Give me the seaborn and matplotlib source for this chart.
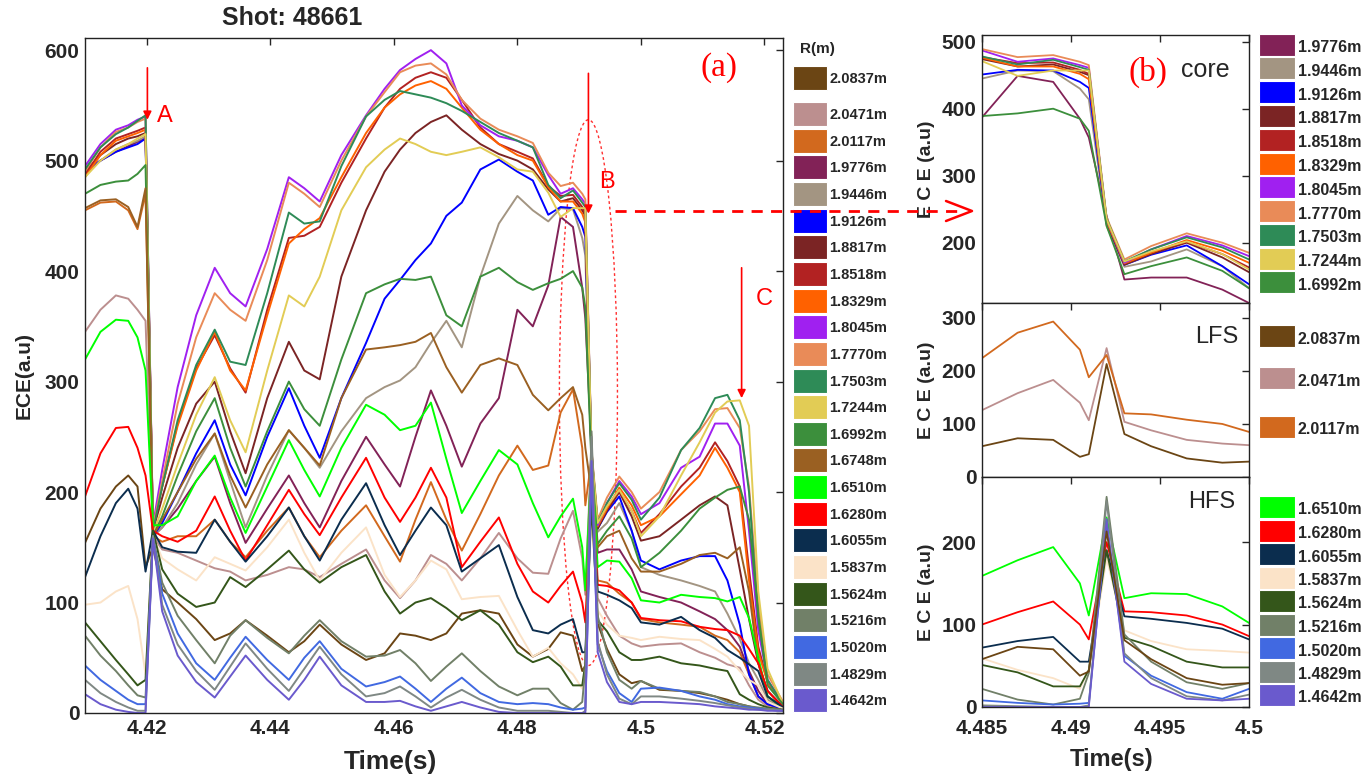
import matplotlib
matplotlib.use("Agg")
import matplotlib.pyplot as plt
import numpy as np
import pandas as pd
import seaborn as sns
from matplotlib.patches import Ellipse, Rectangle
from matplotlib.lines import Line2D

# ---------------------------------------------------------------- data
time_s = [4.4100, 4.4125, 4.4150, 4.4170, 4.4185, 4.4198, 4.4210, 4.4225, 4.4250, 4.4280,
          4.4310, 4.4335, 4.4360, 4.4395, 4.4430, 4.4455, 4.4480, 4.4515, 4.4555, 4.4585,
          4.4610, 4.4635, 4.4660, 4.4685, 4.4710, 4.4740, 4.4770, 4.4800, 4.4825, 4.4850,
          4.4870, 4.4890, 4.4905, 4.4910, 4.4920, 4.4930, 4.4945, 4.4965, 4.4985, 4.5000,
          4.5030, 4.5065, 4.5095, 4.5120, 4.5140, 4.5160, 4.5175, 4.5190, 4.5205, 4.5230]

radius_labels = ["2.0837m", "2.0471m", "2.0117m", "1.9776m", "1.9446m", "1.9126m",
                 "1.8817m", "1.8518m", "1.8329m", "1.8045m", "1.7770m", "1.7503m",
                 "1.7244m", "1.6992m", "1.6748m", "1.6510m", "1.6280m", "1.6055m",
                 "1.5837m", "1.5624m", "1.5216m", "1.5020m", "1.4829m", "1.4642m"]

line_colors = ["#6B4514", "#BC8F8F", "#D2691E", "#822257", "#A39582", "#0000FF",
               "#7B2424", "#B22222", "#FF6100", "#A020F0", "#E98B58", "#2E8B57",
               "#E2CC55", "#3C8F3C", "#9A6022", "#00FF00", "#FF0000", "#0B2D4E",
               "#FBE3C8", "#34561A", "#718068", "#4169E1", "#7F8884", "#6A5ACD"]

ece_2_0837 = [154, 185, 205, 215, 205, 132, 150, 112, 100, 85, 66, 72, 84, 70, 55, 65, 80, 62, 48, 54,
              72, 70, 66, 72, 90, 93, 90, 62, 51, 58, 73, 70, 38, 43, 213, 81, 58, 35, 27, 29,
              21, 20, 18, 15, 12, 8, 6, 4, 3, 2]
ece_2_0471 = [345, 365, 378, 375, 365, 355, 160, 148, 145, 138, 131, 128, 120, 125, 132, 130, 123, 135, 148, 120,
              104, 120, 143, 135, 120, 140, 163, 140, 127, 126, 158, 183, 140, 107, 243, 104, 88, 70, 63, 60,
              62, 63, 55, 50, 44, 41, 25, 12, 6, 3]
ece_2_0117 = [455, 462, 463, 455, 438, 470, 160, 155, 160, 160, 175, 155, 141, 165, 186, 160, 141, 165, 188, 160,
              137, 175, 209, 175, 147, 180, 215, 242, 220, 224, 272, 293, 240, 188, 230, 120, 118, 108, 100, 85,
              82, 80, 78, 70, 66, 55, 35, 15, 8, 4]
ece_1_9776 = [490, 500, 508, 513, 517, 520, 160, 168, 185, 210, 232, 190, 154, 185, 215, 190, 168, 210, 250, 225,
              205, 250, 292, 260, 223, 262, 285, 365, 350, 387, 449, 440, 385, 357, 240, 145, 148, 148, 130, 110,
              105, 100, 92, 85, 75, 60, 38, 20, 8, 4]
ece_1_9446 = [488, 500, 510, 515, 518, 522, 160, 168, 190, 225, 253, 210, 168, 215, 256, 240, 222, 255, 285, 295,
              301, 313, 335, 355, 331, 395, 443, 468, 455, 445, 457, 456, 430, 414, 225, 164, 172, 190, 165, 132,
              125, 120, 115, 110, 90, 67, 45, 30, 12, 5]
ece_1_9126 = [490, 500, 508, 512, 515, 520, 160, 172, 200, 235, 265, 225, 197, 250, 294, 260, 231, 285, 335, 375,
              392, 410, 425, 450, 462, 492, 501, 490, 482, 451, 458, 457, 440, 431, 228, 167, 182, 196, 165, 138,
              130, 138, 142, 142, 120, 80, 35, 15, 8, 4]
ece_1_8817 = [490, 505, 515, 520, 522, 525, 165, 195, 240, 280, 300, 255, 217, 285, 336, 310, 302, 395, 455, 490,
              510, 525, 535, 541, 528, 515, 506, 500, 492, 474, 463, 466, 455, 450, 230, 167, 183, 200, 178, 156,
              160, 175, 188, 196, 188, 130, 85, 45, 20, 6]
ece_1_8518 = [487, 508, 520, 524, 527, 530, 168, 205, 262, 312, 342, 312, 290, 365, 430, 432, 440, 480, 520, 548,
              565, 575, 580, 575, 555, 530, 515, 508, 502, 477, 468, 469, 458, 452, 234, 170, 186, 201, 183, 163,
              180, 205, 222, 245, 228, 205, 130, 60, 28, 8]
ece_1_8329 = [485, 505, 518, 522, 525, 528, 168, 205, 260, 310, 345, 310, 292, 360, 425, 438, 448, 485, 525, 548,
              560, 568, 572, 565, 548, 528, 515, 505, 500, 476, 463, 463, 452, 444, 232, 169, 185, 204, 188, 170,
              178, 198, 215, 240, 222, 200, 120, 55, 28, 8]
ece_1_8045 = [495, 515, 528, 532, 537, 540, 170, 220, 295, 360, 403, 380, 368, 420, 485, 475, 463, 505, 541, 565,
              582, 592, 600, 588, 550, 532, 522, 518, 512, 487, 470, 475, 465, 461, 235, 170, 190, 210, 196, 180,
              190, 222, 232, 262, 262, 242, 165, 75, 30, 8]
ece_1_7770 = [490, 512, 526, 530, 535, 538, 168, 210, 280, 340, 380, 365, 355, 410, 480, 470, 458, 500, 540, 562,
              580, 586, 588, 578, 555, 538, 528, 522, 516, 489, 477, 480, 470, 465, 238, 175, 195, 214, 200, 185,
              200, 238, 255, 275, 276, 258, 205, 100, 35, 10]
ece_1_7503 = [492, 512, 524, 530, 536, 541, 165, 205, 265, 315, 347, 318, 315, 380, 453, 443, 445, 495, 540, 555,
              563, 560, 557, 552, 545, 535, 525, 518, 512, 478, 466, 473, 462, 458, 236, 172, 190, 208, 193, 175,
              195, 238, 258, 285, 288, 265, 200, 85, 30, 8]
ece_1_7244 = [485, 500, 510, 515, 520, 524, 162, 185, 225, 270, 304, 265, 236, 310, 378, 368, 395, 455, 494, 510,
              520, 515, 508, 505, 508, 512, 503, 492, 490, 471, 449, 457, 457, 457, 235, 172, 187, 202, 183, 160,
              178, 215, 245, 272, 282, 283, 260, 110, 40, 8]
ece_1_6992 = [470, 478, 481, 482, 488, 496, 160, 178, 215, 255, 285, 240, 205, 255, 300, 275, 260, 320, 380, 388,
              393, 392, 395, 360, 350, 395, 403, 390, 383, 389, 393, 400, 385, 367, 225, 153, 165, 178, 158, 132,
              145, 165, 185, 195, 202, 205, 175, 90, 25, 8]
ece_1_6748 = [457, 464, 465, 458, 440, 475, 160, 175, 200, 230, 253, 215, 186, 225, 256, 240, 224, 285, 329, 331,
              333, 336, 344, 313, 290, 315, 321, 315, 288, 274, 285, 295, 270, 240, 200, 150, 160, 165, 140, 128,
              128, 135, 143, 145, 140, 150, 110, 45, 15, 5]
ece_1_6510 = [320, 345, 356, 355, 340, 310, 170, 170, 178, 210, 233, 195, 163, 205, 247, 220, 196, 240, 279, 270,
              256, 260, 281, 230, 181, 210, 238, 225, 190, 159, 178, 194, 150, 111, 230, 132, 138, 137, 122, 102,
              100, 107, 105, 104, 101, 105, 86, 50, 15, 5]
ece_1_6280 = [196, 235, 258, 259, 240, 215, 165, 160, 155, 165, 196, 165, 138, 170, 202, 180, 161, 195, 231, 195,
              173, 195, 222, 195, 132, 155, 177, 135, 110, 100, 115, 128, 100, 82, 200, 116, 115, 111, 100, 86,
              84, 83, 78, 76, 75, 70, 58, 45, 20, 5]
ece_1_6055 = [123, 160, 190, 203, 185, 128, 165, 150, 146, 145, 175, 155, 137, 160, 186, 160, 138, 175, 208, 170,
              143, 165, 186, 170, 128, 140, 152, 105, 75, 72, 80, 85, 55, 55, 190, 110, 107, 102, 95, 82,
              80, 87, 75, 68, 57, 50, 44, 38, 15, 5]
ece_1_5837 = [98, 100, 110, 115, 85, 35, 160, 140, 130, 120, 141, 135, 129, 150, 175, 145, 120, 145, 168, 125,
              105, 120, 138, 130, 103, 105, 106, 75, 51, 59, 45, 35, 22, 45, 180, 93, 80, 70, 68, 66,
              69, 67, 66, 58, 51, 38, 30, 25, 10, 4]
ece_1_5624 = [82, 65, 48, 35, 25, 30, 165, 130, 108, 96, 100, 123, 114, 130, 147, 130, 118, 132, 143, 110,
              90, 100, 104, 95, 84, 93, 80, 55, 46, 51, 42, 25, 25, 45, 190, 84, 74, 55, 48, 48,
              51, 45, 43, 40, 38, 17, 12, 8, 5, 3]
ece_1_5216 = [70, 52, 38, 25, 16, 14, 160, 118, 88, 66, 45, 70, 84, 68, 54, 70, 84, 65, 51, 52,
              57, 45, 29, 42, 54, 38, 24, 16, 22, 22, 9, 3, 10, 41, 255, 88, 55, 30, 22, 29,
              22, 20, 19, 15, 10, 8, 6, 5, 4, 3]
ece_1_5020 = [43, 30, 20, 12, 8, 8, 160, 108, 72, 45, 30, 50, 69, 48, 30, 50, 65, 40, 24, 28,
              33, 22, 10, 22, 32, 18, 10, 8, 9, 8, 5, 3, 4, 5, 220, 62, 38, 18, 10, 22,
              23, 20, 15, 12, 8, 6, 5, 4, 3, 2]
ece_1_4829 = [30, 18, 10, 5, 2, 2, 160, 98, 62, 38, 21, 42, 63, 40, 20, 40, 60, 35, 15, 18,
              24, 15, 5, 14, 21, 12, 5, 2, 2, 2, 1, 0, 0, 2, 250, 65, 35, 13, 8, 15,
              15, 13, 11, 9, 7, 5, 4, 3, 3, 2]
ece_1_4642 = [17, 8, 3, 1, 0, 0, 158, 92, 52, 28, 14, 33, 52, 30, 12, 30, 51, 25, 10, 10,
              11, 6, 2, 6, 10, 5, 1, 0, 0, 0, 0, 0, 0, 0, 228, 55, 28, 10, 8, 10,
              10, 9, 8, 6, 5, 4, 3, 3, 2, 2]

core_channels = ["1.9776m", "1.9446m", "1.9126m", "1.8817m", "1.8518m", "1.8329m",
                 "1.8045m", "1.7770m", "1.7503m", "1.7244m", "1.6992m"]
lfs_channels = ["2.0837m", "2.0471m", "2.0117m"]
hfs_channels = ["1.6510m", "1.6280m", "1.6055m", "1.5837m", "1.5624m",
                "1.5216m", "1.5020m", "1.4829m", "1.4642m"]

main_xticks = [4.42, 4.44, 4.46, 4.48, 4.50, 4.52]
main_xtick_labels = ["4.42", "4.44", "4.46", "4.48", "4.5", "4.52"]
main_yticks = [0, 100, 200, 300, 400, 500, 600]
zoom_xticks = [4.485, 4.490, 4.495, 4.500]
zoom_xtick_labels = ["4.485", "4.49", "4.495", "4.5"]

# ---------------------------------------------------------------- table
series = [ece_2_0837, ece_2_0471, ece_2_0117, ece_1_9776, ece_1_9446, ece_1_9126,
          ece_1_8817, ece_1_8518, ece_1_8329, ece_1_8045, ece_1_7770, ece_1_7503,
          ece_1_7244, ece_1_6992, ece_1_6748, ece_1_6510, ece_1_6280, ece_1_6055,
          ece_1_5837, ece_1_5624, ece_1_5216, ece_1_5020, ece_1_4829, ece_1_4642]
rows = []
for lab, vals in zip(radius_labels, series):
    for t, v in zip(time_s, vals):
        rows.append((lab, t, v))
df = pd.DataFrame(rows, columns=["radius", "time", "ece"])
palette = dict(zip(radius_labels, line_colors))

# ---------------------------------------------------------------- style
sns.set_style("white")
FONT = ["Liberation Sans", "DejaVu Sans"]
plt.rcParams["font.family"] = FONT
plt.rcParams["font.weight"] = "bold"
plt.rcParams["axes.labelweight"] = "bold"
plt.rcParams["axes.edgecolor"] = "#222222"
plt.rcParams["axes.linewidth"] = 1.0

W, H = 1371, 774
fig = plt.figure(figsize=(W / 100, H / 100), dpi=100)
fig.patch.set_facecolor("white")


def rect(x0, y0, x1, y1):
    return [x0 / W, 1 - y1 / H, (x1 - x0) / W, (y1 - y0) / H]


def fx(x):
    return x / W


def fy(y):
    return 1 - y / H


def style_axes(ax, size=15):
    ax.tick_params(axis="both", direction="in", top=True, right=True,
                   length=5, width=1, labelsize=size, pad=4)
    for s in ax.spines.values():
        s.set_visible(True)
        s.set_color("#222222")


def draw(ax, chans, lw):
    sub = df[df["radius"].isin(chans)]
    sns.lineplot(data=sub, x="time", y="ece", hue="radius", hue_order=chans,
                 palette=palette, estimator=None, sort=False, legend=False,
                 linewidth=lw, ax=ax)
    ax.set_xlabel("")
    ax.set_ylabel("")


# ---------------------------------------------------------------- panel (a)
ax = fig.add_axes(rect(85, 38, 783, 713))
draw(ax, radius_labels, 1.4)
ax.set_xlim(4.41, 4.523)
ax.set_ylim(0, 611)
ax.set_xticks(main_xticks)
ax.set_xticklabels(main_xtick_labels)
ax.set_yticks(main_yticks)
style_axes(ax, 15)
ax.set_xlabel("Time(s)", fontsize=19, fontweight="bold")
ax.xaxis.set_label_coords(0.437, -0.055)
ax.set_ylabel("ECE(a.u)", fontsize=15, fontweight="bold")
ax.yaxis.set_label_coords(-0.074, 0.5)
fig.text(fx(292), fy(18), "Shot: 48661", ha="center", va="center",
         fontsize=18, fontweight="bold")

ax.text(4.41 + (717 - 85) / 6160, 613 - (70 - 38) / 1.105, "(a)", color="red",
        fontsize=24, family=["Liberation Serif", "DejaVu Serif"], fontweight="normal",
        ha="center", va="center")

arrow_kw = dict(arrowstyle="-|>", color="red", lw=1.2, mutation_scale=12,
                shrinkA=0, shrinkB=0)
ax.annotate("", xy=(4.4201, 537), xytext=(4.4201, 584), arrowprops=arrow_kw)
ax.annotate("", xy=(4.4915, 452), xytext=(4.4915, 579), arrowprops=arrow_kw)
ax.annotate("", xy=(4.5163, 285), xytext=(4.5163, 403), arrowprops=arrow_kw)
for lab, tx, vy in [("A", 4.4229, 540), ("B", 4.4945, 481), ("C", 4.5199, 375)]:
    ax.text(tx, vy, lab, color="red", fontsize=17, fontweight="normal",
            family=["Liberation Sans", "DejaVu Sans"], ha="center", va="center")
ax.add_patch(Ellipse((4.4915, 290), width=0.0094, height=494, fill=False,
                     ec="#FF3030", lw=1.0, ls=(0, (2.0, 2.0))))

# dashed pointer from the crash window to panel (b)
fig.add_artist(Line2D([fx(615), fx(960)], [fy(211), fy(211)], transform=fig.transFigure,
                      color="red", lw=2.0, ls=(0, (4, 3))))
fig.add_artist(Line2D([fx(946), fx(972), fx(946)], [fy(201), fy(211), fy(221)],
                      transform=fig.transFigure, color="red", lw=1.8))

# legend of panel (a)
fig.text(fx(800), fy(49), "R(m)", fontsize=11, fontweight="bold", va="center", ha="left")
centers = [78] + [114 + 26.65 * k for k in range(23)]
for lab, col, cy in zip(radius_labels, line_colors, centers):
    fig.add_artist(Rectangle((fx(793), fy(cy + 12)), 34 / W, 24 / H, transform=fig.transFigure,
                             fc=col, ec="white", lw=0.8))
    fig.text(fx(829), fy(cy + 1), lab, fontsize=10.5, fontweight="bold", va="center", ha="left")

# ---------------------------------------------------------------- panel (b)
axc = fig.add_axes(rect(982, 35, 1249, 303))
axl = fig.add_axes(rect(982, 303, 1249, 477))
axh = fig.add_axes(rect(982, 477, 1249, 707))

draw(axc, core_channels, 1.3)
draw(axl, lfs_channels, 1.3)
draw(axh, hfs_channels + ["2.0837m"], 1.3)

for a, lo, hi, yt in [(axc, 110, 510, [200, 300, 400, 500]),
                      (axl, 0, 328, [0, 100, 200, 300]),
                      (axh, 0, 279, [0, 100, 200])]:
    a.set_xlim(4.485, 4.5)
    a.set_ylim(lo, hi)
    a.set_yticks(yt)
    a.set_xticks(zoom_xticks)
    style_axes(a, 15)
    a.set_ylabel("E C E (a.u)", fontsize=14, fontweight="bold")
    a.yaxis.set_label_coords(-0.175, 0.5)
axc.set_xticklabels([])
axl.set_xticklabels([])
axh.set_xticklabels(zoom_xtick_labels)
axh.tick_params(axis="x", pad=9)
axh.set_xlabel("Time(s)", fontsize=17, fontweight="bold")
axh.xaxis.set_label_coords(0.485, -0.18)

fig.text(fx(1148), fy(72), "(b)", color="red", fontsize=24, fontweight="normal",
         family=["Liberation Serif", "DejaVu Serif"], ha="center", va="center")
fig.text(fx(1205), fy(70), "core", fontsize=18, fontweight="normal",
         family=["Liberation Sans", "DejaVu Sans"], ha="center", va="center")
fig.text(fx(1217), fy(337), "LFS", fontsize=17, fontweight="normal",
         family=["Liberation Sans", "DejaVu Sans"], ha="center", va="center")
fig.text(fx(1212), fy(502), "HFS", fontsize=17, fontweight="normal",
         family=["Liberation Sans", "DejaVu Sans"], ha="center", va="center")


def side_legend(chans, centers, h):
    for lab, cy in zip(chans, centers):
        fig.add_artist(Rectangle((fx(1259), fy(cy + h / 2)), 36 / W, h / H,
                                 transform=fig.transFigure, fc=palette[lab],
                                 ec="white", lw=0.8))
        fig.text(fx(1298), fy(cy + 3), lab, fontsize=11.5, fontweight="bold",
                 va="center", ha="left")


side_legend(core_channels, [44.5 + 23.8 * k for k in range(11)], 22)
side_legend(lfs_channels, [336, 378, 427], 22)
side_legend(hfs_channels, [507 + 23.5 * k for k in range(9)], 22)

fig.savefig("out.png", dpi=100, facecolor="white")
